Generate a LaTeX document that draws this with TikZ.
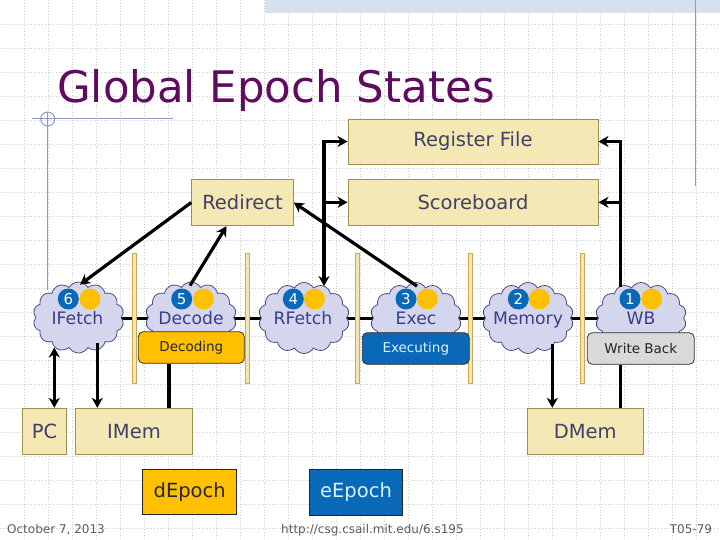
\documentclass[tikz,border=0pt]{standalone}
\usepackage{fontspec}
\setmainfont{DejaVu Sans}
\usetikzlibrary{shapes.symbols,arrows.meta,calc}
\definecolor{khaki}{HTML}{F4E8B4}
\definecolor{khakiline}{HTML}{A09050}
\definecolor{boxtext}{HTML}{404068}
\definecolor{cloudfill}{HTML}{D4D6EE}
\definecolor{cloudline}{HTML}{4C4C82}
\definecolor{cloudtext}{HTML}{3C3C88}
\definecolor{ppblue}{HTML}{0A68B8}
\definecolor{ppyellow}{HTML}{FFC000}
\definecolor{titlecol}{HTML}{600A60}
\definecolor{gridcol}{HTML}{CDCDCD}
\definecolor{decoline}{HTML}{8A9AC0}
\definecolor{band}{HTML}{D6E0EE}
\definecolor{footcol}{HTML}{5A5A6A}
\definecolor{barfill}{HTML}{F4E6B0}
\definecolor{barline}{HTML}{C8AA58}
\definecolor{exectext}{HTML}{D8F2FF}
\tikzset{
  unitbox/.style={draw=khakiline, fill=khaki, line width=0.9pt, text=boxtext,
    font=\fontsize{19.5}{22}\selectfont, inner sep=0pt},
  cloudsh/.style={cloud, cloud puffs=14, cloud puff arc=120, aspect=1.3,
    draw=cloudline, fill=cloudfill, line width=0.8pt, inner sep=0pt,
    minimum width=91pt, minimum height=71pt},
  cloudlbl/.style={text=cloudtext, font=\fontsize{17.2}{18}\selectfont, anchor=base, inner sep=0pt},
  numc/.style={circle, fill=ppblue, text=white, minimum size=21pt, inner sep=0pt,
    font=\fontsize{15}{15}\selectfont},
  yelc/.style={circle, fill=ppyellow, minimum size=21pt, inner sep=0pt},
  statusbox/.style={rounded corners=5pt, draw=black!80, line width=0.8pt, inner sep=0pt,
    minimum width=107pt, minimum height=31.6pt, font=\fontsize{13.5}{14}\selectfont},
  epochbox/.style={draw=black!85, line width=0.9pt, inner sep=0pt, minimum height=45pt,
    font=\fontsize{19.5}{22}\selectfont},
  pipebar/.style={draw=barline, fill=barfill, line width=0.7pt},
  griddot/.style={draw=gridcol, line width=0.5pt, dash pattern=on 0.8pt off 2pt},
  conn/.style={draw=black, line width=3.2pt},
  tip/.style={-{Stealth[length=10pt,width=11pt,inset=3pt]}},
  tips/.style={{Stealth[length=10pt,width=11pt,inset=3pt]}-{Stealth[length=10pt,width=11pt,inset=3pt]}},
  foot/.style={text=footcol, font=\fontsize{12}{12}\selectfont, inner sep=0pt}
}
\begin{document}
\begin{tikzpicture}[x=1pt,y=-1pt]
\useasboundingbox (0,0) rectangle (720,540);
\fill[white] (0,0) rectangle (720,540);
% background grid
\foreach \gx in {24,48,...,720} \draw[griddot] (\gx,0) -- (\gx,540);
\foreach \gy in {24,48,...,528} \draw[griddot] (0,\gy) -- (720,\gy);
% decorations
\fill[band] (265,0) rectangle (720,13);
\draw[decoline, line width=1pt] (695,0) -- (695,186);
\draw[decoline, line width=1pt] (32,119) -- (173,119);
\draw[decoline, line width=1pt] (47.7,119) circle (7);
\draw[decoline, line width=1pt] (47.7,112) -- (47.7,290);
% title
\node[anchor=base west, inner sep=0pt, text=titlecol, font=\fontsize{43.5}{46}\selectfont] (title) at (57,103) {Global Epoch States};
% unit boxes
\node[unitbox, minimum width=250pt, minimum height=45pt] (regfile) at (473,141.5) {Register File};
\node[unitbox, minimum width=250pt, minimum height=46pt] (scoreboard) at (473,202.3) {Scoreboard};
\node[unitbox, minimum width=101.6pt, minimum height=46.4pt] (redirect) at (242.5,202.5) {Redirect};
\node[unitbox, minimum width=44.4pt, minimum height=46pt] (pc) at (44.5,431.3) {PC};
\node[unitbox, minimum width=117.4pt, minimum height=46pt] (imem) at (134,431.3) {IMem};
\node[unitbox, minimum width=116pt, minimum height=46pt] (dmem) at (585.3,431.3) {DMem};
% pipeline line
\draw[line width=3pt] (78.5,318) -- (641,318);
% pipeline registers
\foreach \bx in {134,247.7,357.3,470.3,582.3}
  \draw[pipebar] (\bx-2,253) rectangle (\bx+2,383);
% clouds
\node[cloudsh] (ifetch) at (78.5,317.5) {};
\node[cloudsh] (decode) at (191,317.5) {};
\node[cloudsh] (rfetch) at (304,318) {};
\node[cloudsh] (exec) at (416,318) {};
\node[cloudsh] (memory) at (528,318) {};
\node[cloudsh] (wb) at (641,318) {};
% stage numbers
\node[yelc] (y6) at (90,299) {}; \node[numc] (n6) at (68.3,299) {6};
\node[yelc] (y5) at (203.3,299) {}; \node[numc] (n5) at (181.7,299) {5};
\node[yelc] (y4) at (314.5,299) {}; \node[numc] (n4) at (293.3,299) {4};
\node[yelc] (y3) at (427.3,299) {}; \node[numc] (n3) at (406,299) {3};
\node[yelc] (y2) at (539.3,299) {}; \node[numc] (n2) at (518.3,299) {2};
\node[yelc] (y1) at (651.7,299) {}; \node[numc] (n1) at (630,299) {1};
% cloud labels
\node[cloudlbl] (lifetch) at (77.5,324) {IFetch};
\node[cloudlbl] (ldecode) at (191,324) {Decode};
\node[cloudlbl] (lrfetch) at (303,324) {RFetch};
\node[cloudlbl] (lexec) at (416,324) {Exec};
\node[cloudlbl] (lmemory) at (528,324) {Memory};
\node[cloudlbl] (lwb) at (641,324) {WB};
% status boxes
\node[statusbox, fill=ppyellow, text=black!85, minimum width=106pt] (decoding) at (191.3,347.5) {Decoding};
\node[statusbox, fill=ppblue, text=exectext] (executing) at (415.8,348.5) {Executing};
\node[statusbox, fill=black!15, text=black!85] (writeback) at (640.8,348.5) {Write Back};
% epochs
\node[epochbox, fill=ppyellow, text=black!85, minimum width=94pt] (depoch) at (189.7,491.8) {dEpoch};
\node[epochbox, fill=ppblue, text=exectext, minimum width=93.4pt, minimum height=46pt] (eepoch) at (356,492.2) {eEpoch};
% connectors
\draw[conn,tip] (redirect.west) -- ($(ifetch.north)+(1.5,3)$);
\draw[conn,tip] ($(decode.north)+(-1,4)$) -- ($(redirect.south)+(-16,0)$);
\draw[conn,tip] ($(exec.north)+(1,4)$) -- (redirect.east);
\coordinate (rf) at ($(rfetch.north)+(20,4)$);
\coordinate (rtop) at (rf |- regfile.west);
\coordinate (rmid) at (rf |- scoreboard.west);
\draw[conn,tips,line join=miter] (regfile.west) -- (rtop) -- (rf);
\draw[conn,tip] (rmid) -- (scoreboard.west);
\coordinate (wbt) at ($(wb.north)+(-20.3,5)$);
\coordinate (wtop) at (wbt |- regfile.east);
\coordinate (wmid) at (wbt |- scoreboard.east);
\draw[conn,tip,line join=miter] (wbt) -- (wtop) -- (regfile.east);
\draw[conn,tip] (wmid) -- (scoreboard.east);
\draw[conn] (writeback.south -| wbt) -- (dmem.north -| wbt);
\coordinate (mb) at ($(memory.south)+(24.3,-10)$);
\draw[conn,tip] (mb) -- (mb |- dmem.north);
\coordinate (pcu) at ($(ifetch.south)+(-24.2,-6)$);
\draw[conn,tips] (pcu) -- (pcu |- pc.north);
\coordinate (imu) at ($(ifetch.south)+(18.8,-10)$);
\draw[conn,tip] (imu) -- (imu |- imem.north);
\coordinate (dcu) at ($(decoding.south)+(-22.3,0)$);
\draw[conn] (dcu) -- (dcu |- imem.north);
% footer
\node[foot, anchor=base west] (date) at (7,533.5) {October 7, 2013};
\node[foot, anchor=base west] (url) at (281,533.5) {http://csg.csail.mit.edu/6.s195};
\node[foot, anchor=base east] (slide) at (712.3,533.5) {T05-79};
\end{tikzpicture}
\end{document}
